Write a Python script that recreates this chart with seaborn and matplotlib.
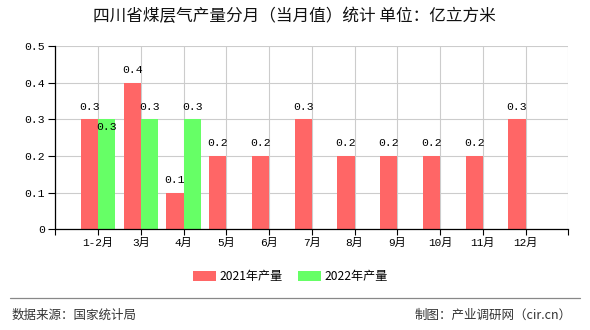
import matplotlib
matplotlib.use("Agg")
import matplotlib.pyplot as plt
from matplotlib.lines import Line2D
import seaborn as sns
import pandas as pd

# ---- data ----
months = ['1-2月', '3月', '4月', '5月', '6月', '7月', '8月', '9月', '10月', '11月', '12月']
series_names = ['2021年产量', '2022年产量']
values_2021 = [0.3, 0.4, 0.1, 0.2, 0.2, 0.3, 0.2, 0.2, 0.2, 0.2, 0.3]
months_2022 = ['1-2月', '3月', '4月']
values_2022 = [0.3, 0.3, 0.3]
y_ticks = [0, 0.1, 0.2, 0.3, 0.4, 0.5]
y_tick_labels = ['0', '0.1', '0.2', '0.3', '0.4', '0.5']
title = '四川省煤层气产量分月（当月值）统计 单位：亿立方米'
source_text = '数据来源：国家统计局'
credit_text = '制图：产业调研网（cir.cn）'

# style: which 2022 labels sit inside the bar (label collision avoidance)
inside_2022 = [True, False, False]

df = pd.concat([
    pd.DataFrame({'month': months, 'series': series_names[0], 'value': values_2021}),
    pd.DataFrame({'month': months_2022, 'series': series_names[1], 'value': values_2022}),
], ignore_index=True)

sns.set_style('white')
CJK = ['Noto Sans CJK SC', 'DejaVu Sans']
MONO = ['Liberation Mono', 'Noto Sans CJK SC']
plt.rcParams['font.family'] = CJK

W, H = 590, 330
fig = plt.figure(figsize=(W / 100, H / 100), dpi=100)
left, right, top, bottom = 55.3, 568.3, 46.0, 229.3
ax = fig.add_axes([left / W, 1 - bottom / H, (right - left) / W, (bottom - top) / H])

palette = {series_names[0]: '#FF6666', series_names[1]: '#66FF66'}
sns.barplot(data=df, x='month', y='value', hue='series', order=months,
            hue_order=series_names, palette=palette, width=0.8, saturation=1,
            errorbar=None, linewidth=0, ax=ax)

handles, labels = ax.get_legend_handles_labels()
if ax.get_legend() is not None:
    ax.get_legend().remove()

ax.set_xlim(-1, len(months))
ax.set_ylim(0, 0.5)
ax.set_yticks(y_ticks)
ax.set_yticklabels(y_tick_labels)
ax.set_xticks(range(-1, len(months) + 1))
ax.set_xticklabels([''] + months + [''])
ax.set_xlabel('')
ax.set_ylabel('')

for lab in ax.get_yticklabels():
    lab.set_family(MONO)
    lab.set_fontsize(8.2)
    lab.set_color('#000000')
for lab in ax.get_xticklabels():
    lab.set_family(MONO)
    lab.set_fontsize(8)
    lab.set_color('#000000')

ax.tick_params(axis='y', length=5, width=0.8, color='black', pad=2.5, left=True)
ax.tick_params(axis='x', length=4, width=0.8, color='black', pad=2.5, bottom=True)

ax.grid(True, color='#cccccc', linewidth=0.8)
ax.set_axisbelow(True)
for s in ['top', 'right']:
    ax.spines[s].set_visible(False)
for s in ['left', 'bottom']:
    ax.spines[s].set_visible(True)
    ax.spines[s].set_color('black')
    ax.spines[s].set_linewidth(0.9)

# bar value labels
for ci, cont in enumerate(ax.containers):
    for bi, patch in enumerate(cont.patches):
        h = patch.get_height()
        if pd.isna(h):
            continue
        x = patch.get_x() + patch.get_width() / 2
        dy = 12.5
        if ci == 1 and bi < len(inside_2022) and inside_2022[bi]:
            dy = -7.5
        ax.annotate(f'{h:.1f}', (x, h), xytext=(0, dy), textcoords='offset pixels',
                    ha='center', va='center', fontsize=8.2, family=MONO, color='#000000')

# legend
leg = fig.legend(handles, labels, loc='center', bbox_to_anchor=(290.5 / W, 1 - 276.7 / H),
                 ncol=2, frameon=False, fontsize=8.7, handlelength=1.9, handleheight=0.78,
                 handletextpad=0.3, columnspacing=1.2, borderpad=0)
for t in leg.get_texts():
    t.set_color('#000000')

# title
fig.text(294 / W, 1 - 17 / H, title, ha='center', va='center', fontsize=12,
         color='#111111', family=CJK)

# separator + footer
fig.add_artist(Line2D([10 / W, 580 / W], [1 - 298.3 / H, 1 - 298.3 / H],
                      transform=fig.transFigure, color='#888888', linewidth=0.9))
fig.text(12 / W, 1 - 315 / H, source_text, ha='left', va='center', fontsize=9,
         color='#333333', family=CJK)
fig.text(572 / W, 1 - 315 / H, credit_text, ha='right', va='center', fontsize=9,
         color='#333333', family=CJK)

fig.savefig('out.png', dpi=100)
